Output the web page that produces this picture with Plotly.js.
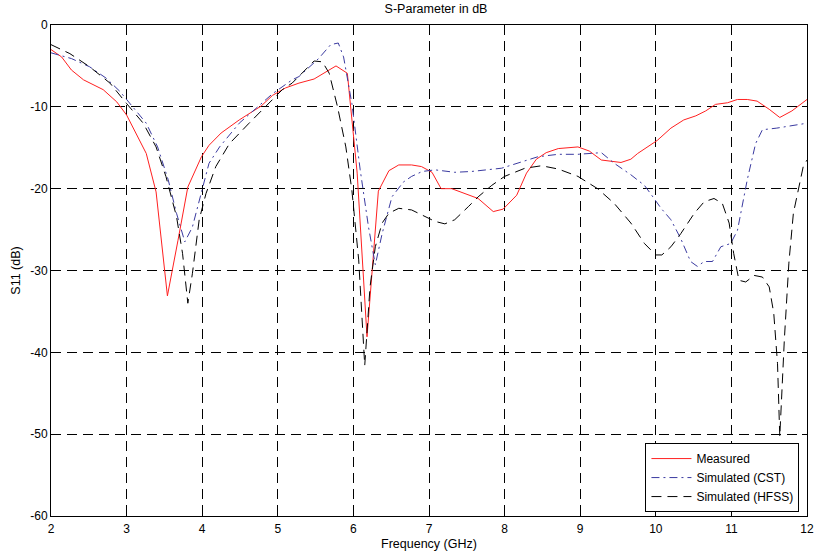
<!DOCTYPE html>
<html><head><meta charset="utf-8">
<script src="https://cdn.plot.ly/plotly-3.0.1.min.js"></script>
<style>body{margin:0;background:#fff}#c{width:815px;height:556px}</style>
</head><body><div id="c"></div>
<script>
const measFreq = [2.0,2.14,2.27,2.43,2.69,2.87,3.0,3.26,3.39,3.54,3.68,3.81,3.99,4.09,4.25,4.49,4.78,4.93,5.1,5.28,5.48,5.77,5.92,6.05,6.18,6.33,6.47,6.6,6.77,6.9,7.04,7.16,7.3,7.48,7.65,7.85,7.98,8.16,8.29,8.42,8.55,8.71,8.97,9.12,9.28,9.54,9.67,9.76,10.02,10.2,10.37,10.53,10.66,10.79,10.95,11.08,11.21,11.34,11.5,11.64,11.8,12.0];
const measDb = [-3.0,-3.9,-5.5,-6.7,-7.9,-9.4,-11.0,-15.7,-20.4,-33.1,-26.3,-19.8,-16.1,-14.7,-13.2,-11.6,-9.9,-8.6,-7.7,-7.1,-6.6,-5.0,-5.9,-18.1,-38.1,-20.3,-17.8,-17.1,-17.1,-17.3,-18.0,-20.0,-20.0,-20.6,-21.2,-22.8,-22.5,-20.8,-18.1,-16.4,-15.6,-15.1,-14.9,-15.4,-16.5,-16.8,-16.4,-15.7,-14.1,-12.6,-11.6,-11.1,-10.5,-9.7,-9.5,-9.1,-9.1,-9.3,-10.3,-11.3,-10.5,-9.1];

const cstFreq = [2.0,2.27,2.51,2.73,2.91,3.08,3.26,3.41,3.55,3.66,3.77,3.87,3.99,4.09,4.23,4.49,4.71,4.93,5.19,5.28,5.54,5.7,5.8,5.87,5.98,6.09,6.2,6.29,6.38,6.51,6.66,6.77,6.91,7.08,7.34,7.56,7.96,8.18,8.44,8.71,8.97,9.28,9.45,9.67,9.85,9.93,10.07,10.2,10.33,10.46,10.55,10.64,10.75,10.86,10.99,11.08,11.21,11.32,11.41,11.6,11.78,12.0];
const cstDb = [-3.4,-4.1,-5.1,-6.5,-8.1,-10.0,-12.0,-14.9,-18.9,-23.0,-26.5,-24.7,-20.6,-16.9,-14.9,-12.0,-10.2,-8.4,-6.7,-6.3,-4.1,-2.4,-2.2,-3.9,-9.6,-17.7,-24.7,-29.3,-25.5,-21.0,-19.2,-18.5,-17.9,-17.7,-18.0,-17.9,-17.5,-16.9,-16.1,-15.8,-15.8,-15.6,-16.9,-18.3,-19.6,-20.6,-22.4,-23.8,-26.1,-28.9,-29.5,-28.9,-28.9,-27.1,-26.7,-25.1,-18.9,-14.5,-12.8,-12.6,-12.3,-12.0];

const hfssFreq = [2.0,2.25,2.51,2.78,3.0,3.22,3.39,3.52,3.66,3.74,3.81,3.87,3.96,4.05,4.18,4.36,4.62,4.84,5.06,5.19,5.37,5.48,5.59,5.68,5.79,5.9,5.98,6.07,6.15,6.22,6.29,6.38,6.47,6.6,6.77,6.95,7.08,7.21,7.34,7.52,7.65,7.83,8.0,8.27,8.49,8.71,8.97,9.23,9.45,9.67,9.85,10.0,10.08,10.2,10.33,10.51,10.64,10.77,10.88,10.97,11.03,11.1,11.19,11.3,11.41,11.5,11.56,11.61,11.64,11.7,11.76,11.82,11.89,11.95,12.0];
const hfssDb = [-2.4,-3.5,-5.1,-7.1,-9.6,-12.0,-14.9,-18.5,-23.4,-27.9,-34.0,-30.4,-23.8,-20.6,-17.3,-14.5,-12.0,-10.0,-7.9,-7.1,-5.5,-4.4,-4.5,-5.9,-10.0,-14.9,-20.2,-28.7,-41.6,-32.0,-27.1,-24.2,-23.0,-22.4,-22.6,-23.4,-24.0,-24.3,-23.8,-22.2,-21.0,-19.6,-18.5,-17.5,-17.2,-17.6,-18.5,-20.0,-21.8,-24.2,-26.7,-28.1,-28.1,-27.1,-25.5,-23.0,-21.6,-21.2,-21.8,-24.2,-27.9,-31.2,-31.4,-30.6,-30.8,-32.0,-35.2,-41.4,-50.3,-38.5,-29.1,-23.0,-19.8,-17.3,-16.5];

const xTicks = [2,3,4,5,6,7,8,9,10,11,12];
const yTicks = [0,-10,-20,-30,-40,-50,-60];
const seriesNames = ['Measured','Simulated (CST)','Simulated (HFSS)'];

const tickFont = {family:'Liberation Sans, Arial, sans-serif', size:12, color:'#000'};
const titleFont = {family:'Liberation Sans, Arial, sans-serif', size:12.5, color:'#000'};
const traces = [
  {x:measFreq, y:measDb, name:seriesNames[0], mode:'lines', line:{color:'#ff2020', width:1}},
  {x:cstFreq, y:cstDb, name:seriesNames[1], mode:'lines', line:{color:'#3a3aa0', width:1, dash:'8px,4px,2px,4px'}},
  {x:hfssFreq, y:hfssDb, name:seriesNames[2], mode:'lines', line:{color:'#000', width:1, dash:'10px,6px'}}
];
const axisCommon = {
  showline:true, linecolor:'#000', linewidth:1, mirror:'allticks',
  ticks:'inside', ticklen:5, tickcolor:'#000', tickwidth:1,
  showgrid:true, gridcolor:'#000', gridwidth:1, griddash:'10px,6px',
  zeroline:false, tickfont:tickFont, ticklabeloverflow:'allow'
};
const layout = {
  width:815, height:556,
  margin:{l:51, r:8, t:25, b:40},
  paper_bgcolor:'#fff', plot_bgcolor:'#fff',
  font:tickFont,
  title:{text:'S-Parameter in dB', font:titleFont, x:0.535, xanchor:'center', y:0.992, yanchor:'top'},
  xaxis:Object.assign({}, axisCommon, {range:[2,12], tickvals:xTicks, ticktext:xTicks.map(String),
    ticklabelstandoff:2,
    title:{text:'Frequency (GHz)', font:titleFont, standoff:3}}),
  yaxis:Object.assign({}, axisCommon, {range:[-60,0], tickvals:yTicks, ticktext:yTicks.map(String),
    title:{text:'S11 (dB)', font:titleFont, standoff:6}}),
  showlegend:true,
  legend:{x:0.99, y:0.008, xanchor:'right', yanchor:'bottom', bgcolor:'#fff',
    bordercolor:'#000', borderwidth:1, font:tickFont, tracegroupgap:0, itemwidth:40}
};
Plotly.newPlot('c', traces, layout, {displayModeBar:false, staticPlot:true});
</script></body></html>
